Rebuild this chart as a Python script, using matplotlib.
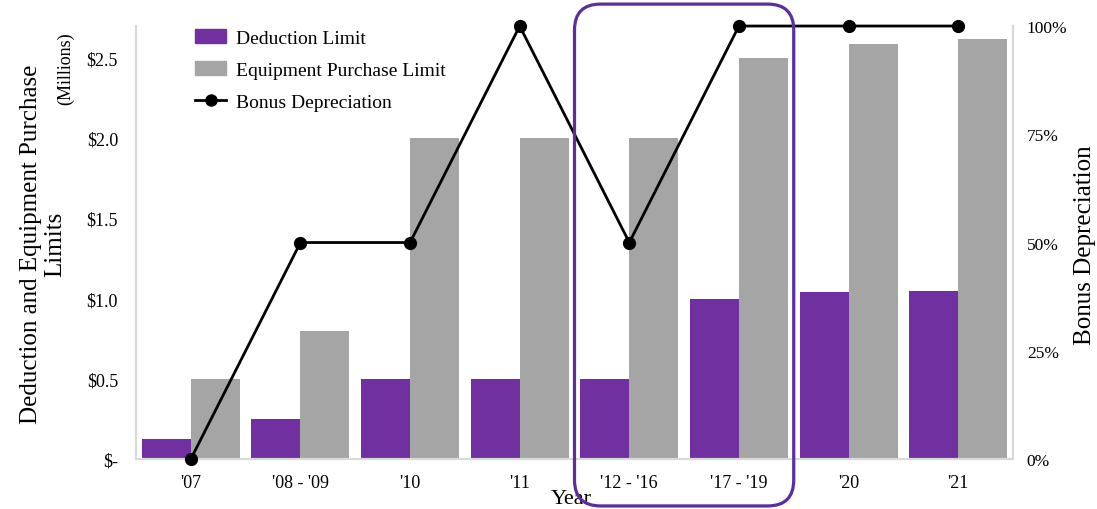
import matplotlib.pyplot as plt
from matplotlib.patches import FancyBboxPatch, Patch
from matplotlib.lines import Line2D
from matplotlib.ticker import FuncFormatter, PercentFormatter

plt.rcParams['font.family'] = ['Liberation Serif', 'DejaVu Serif']

years = ["'07", "'08 - '09", "'10", "'11", "'12 - '16", "'17 - '19", "'20", "'21"]
deduction_limit = [0.125, 0.25, 0.5, 0.5, 0.5, 1.0, 1.04, 1.05]    # $ millions
equipment_limit = [0.5, 0.8, 2.0, 2.0, 2.0, 2.5, 2.59, 2.62]       # $ millions
bonus_depreciation = [0.0, 0.5, 0.5, 1.0, 0.5, 1.0, 1.0, 1.0]      # fraction
highlight = ["'12 - '16", "'17 - '19"]

PURPLE = '#7030a0'
GRAY = '#a5a5a5'
BOX_COLOR = '#5b2d9f'
SPINE = '#d9d9d9'
BAR_W = 0.447
TICK_FS = 13

fig = plt.figure(figsize=(10.97, 5.10), dpi=100)
ax = fig.add_axes([0.124, 0.098, 0.7994, 0.849])

x = list(range(len(years)))
ax.bar([i - BAR_W / 2 for i in x], deduction_limit, width=BAR_W, color=PURPLE)
ax.bar([i + BAR_W / 2 for i in x], equipment_limit, width=BAR_W, color=GRAY)
ax.set_xlim(-0.5, len(years) - 0.5)
ax.set_ylim(0, 2.7)
ax.set_yticks([0, 0.5, 1.0, 1.5, 2.0, 2.5])
ax.yaxis.set_major_formatter(FuncFormatter(
    lambda v, p: '$-' if v == 0 else f'${v:.1f}'))
ax.set_xticks(x)
ax.set_xticklabels(years)
ax.tick_params(axis='y', length=0, pad=13, labelsize=TICK_FS)
ax.tick_params(axis='x', length=0, pad=11, labelsize=TICK_FS)

ax2 = ax.twinx()
ax2.plot(x, bonus_depreciation, color='black', linewidth=2, marker='o',
         markersize=8.5, clip_on=False, zorder=5)
ax2.set_ylim(0, 1)
ax2.set_yticks([0, 0.25, 0.5, 0.75, 1.0])
ax2.yaxis.set_major_formatter(PercentFormatter(1.0, decimals=0))
ax2.tick_params(axis='y', length=0, pad=10, labelsize=12.5)

for a in (ax, ax2):
    a.spines['top'].set_visible(False)
    for side in ('left', 'right', 'bottom'):
        a.spines[side].set_color(SPINE)
        a.spines[side].set_linewidth(1.5)

# axis titles (left one is split over two lines by hand)
fig.text(0.028, 0.52, 'Deduction and Equipment Purchase', rotation=90,
         ha='center', va='center', fontsize=18)
fig.text(0.05, 0.52, 'Limits', rotation=90, ha='center', va='center',
         fontsize=18)
fig.text(0.06, 0.866, '(Millions)', rotation=90, ha='center', va='center',
         fontsize=13)
fig.text(0.989, 0.52, 'Bonus Depreciation', rotation=90, ha='center',
         va='center', fontsize=18)
fig.text(0.521, 0.02, 'Year', ha='center', va='center', fontsize=16)

handles = [
    Patch(color=PURPLE, label='Deduction Limit'),
    Patch(color=GRAY, label='Equipment Purchase Limit'),
    Line2D([], [], color='black', linewidth=2, marker='o', markersize=8,
           label='Bonus Depreciation'),
]
ax2.legend(handles=handles, loc='upper left',
           bbox_to_anchor=(0.162, 0.975), bbox_transform=fig.transFigure,
           frameon=False, fontsize=14, handlelength=1.6,
           handletextpad=0.5, labelspacing=0.75)

# rounded box around the highlighted year groups
i0 = years.index(highlight[0])
i1 = years.index(highlight[-1])
fig.canvas.draw()
to_fig = fig.transFigure.inverted()
(x0, _) = to_fig.transform(ax.transData.transform((i0 - 0.5, 0)))
(x1, _) = to_fig.transform(ax.transData.transform((i1 + 0.5, 0)))
y0, y1 = 0.006, 0.99
W, H = fig.get_size_inches() * fig.dpi
r = 26 / W
box = FancyBboxPatch((x0 + r, y0 + r * W / H), x1 - x0 - 2 * r,
                     y1 - y0 - 2 * r * W / H,
                     boxstyle=f'round,pad={r},rounding_size={r}',
                     mutation_aspect=W / H, transform=fig.transFigure,
                     fill=False, edgecolor=BOX_COLOR, linewidth=2.3,
                     zorder=10)
fig.patches.append(box)

fig.savefig('out.png', dpi=100)
